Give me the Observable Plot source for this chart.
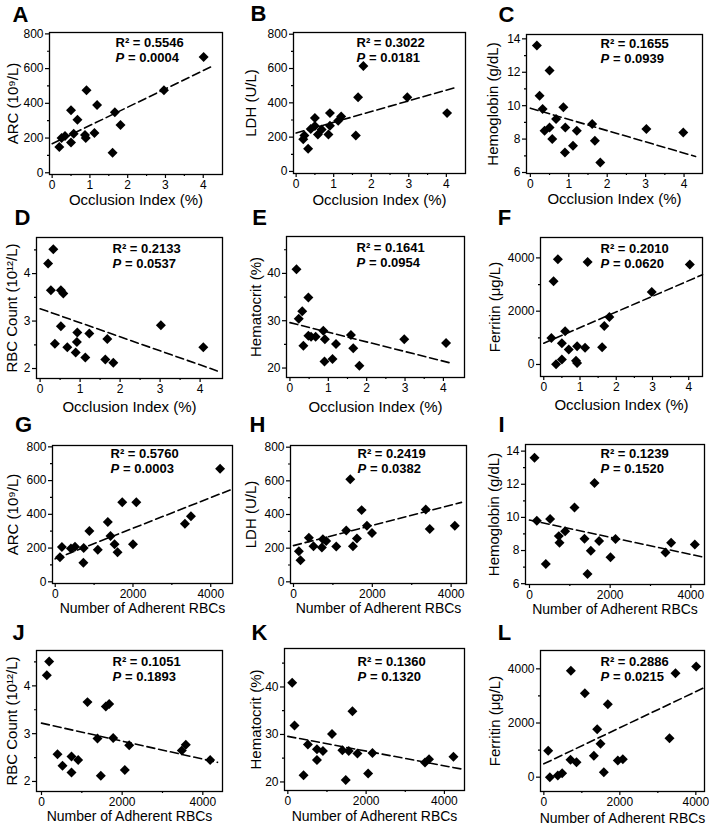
<!DOCTYPE html>
<html><head><meta charset="utf-8">
<script src="https://cdn.jsdelivr.net/npm/d3@7"></script>
<script src="https://cdn.jsdelivr.net/npm/@observablehq/plot@0.6"></script>
<style>
body{margin:0;background:#fff;}
#chart{position:relative;width:709px;height:828px;overflow:hidden;font-family:"Liberation Sans",Arial,sans-serif;}
#chart svg{position:absolute;overflow:visible;}
</style></head><body><div id="chart"></div>
<script>
// ---------- data ----------
const letters = ["A","B","C","D","E","F","G","H","I","J","K","L"];
const xLabels = ["Occlusion Index (%)", "Number of Adherent RBCs"];
const yLabels = ["ARC (10⁹/L)", "LDH (U/L)", "Hemoglobin (g/dL)", "RBC Count (10¹²/L)", "Hematocrit (%)", "Ferritin (μg/L)"];
const r2Values = ["0.5546","0.3022","0.1655","0.2133","0.1641","0.2010","0.5760","0.2419","0.1239","0.1051","0.1360","0.2886"];
const pValues  = ["0.0004","0.0181","0.0939","0.0537","0.0954","0.0620","0.0003","0.0382","0.1520","0.1893","0.1320","0.0215"];

const occTicks = [0,1,2,3,4], occMinor = [0.5,1.5,2.5,3.5];
const adhTicks = [0,2000,4000], adhMinor = [1000,3000];
const arcTicks = [0,200,400,600,800], arcMinor = [100,300,500,700];
const ldhTicks = [0,200,400,600,800], ldhMinor = [100,300,500,700];
const hbTicks = [6,8,10,12,14], hbMinor = [7,9,11,13];
const rbcTicks = [2,3,4], rbcMinor = [2.5,3.5,4.5];
const hctTicks = [20,30,40], hctMinor = [25,35,45];
const ferTicks = [0,2000,4000], ferMinor = [1000,3000];

// A: ARC vs occlusion index
const aX = [0.19,0.25,0.34,0.50,0.50,0.57,0.67,0.87,0.89,0.91,1.12,1.19,1.60,1.66,1.81,2.96,4.01];
const aY = [148,200,212,360,175,225,306,217,200,475,229,390,115,348,275,475,667];
const aFitX = [0,4.22], aFitY = [167,612];
// B: LDH vs occlusion index
const bX = [1.79,1.65,2.96,4.02,0.90,0.50,1.20,1.12,0.90,0.50,0.39,0.68,0.58,0.86,1.59,0.22,0.19,0.32];
const bY = [615,433,433,340,340,312,320,295,267,265,248,245,215,215,210,210,187,132];
const bFitX = [0,4.22], bFitY = [224,488];
// C: Hemoglobin vs occlusion index
const cX = [0.17,0.50,0.24,0.32,0.86,0.67,0.50,0.37,0.91,1.21,0.57,1.11,0.90,1.61,1.68,1.82,3.02,3.98];
const cY = [13.6,12.1,10.6,9.8,9.9,9.2,8.7,8.5,8.7,8.5,8.0,7.6,7.2,8.9,7.9,6.6,8.6,8.4];
const cFitX = [0,4.3], cFitY = [9.85,6.96];
// D: RBC count vs occlusion index
const dX = [0.33,0.20,0.27,0.52,0.58,0.52,0.37,0.68,0.93,0.92,0.89,1.23,1.13,1.68,1.63,1.83,3.02,4.08];
const dY = [4.51,4.21,3.65,3.65,3.58,2.89,2.52,2.45,2.76,2.56,2.34,2.74,2.23,2.62,2.19,2.12,2.91,2.45];
const dFitX = [0,4.43], dFitY = [3.26,1.95];
// E: Hematocrit vs occlusion index
const eX = [0.17,0.48,0.32,0.23,0.35,0.48,0.55,0.67,0.87,0.91,0.90,1.11,1.20,1.59,1.65,1.81,2.98,4.07];
const eY = [40.9,34.9,32.0,30.4,24.7,26.8,26.6,26.6,27.9,26.1,21.4,21.9,25.1,27.0,24.2,20.5,26.1,25.3];
const eFitX = [0,4.17], eFitY = [29.6,21.1];
// F: Ferritin vs occlusion index
const fX = [0.39,1.21,4.03,0.27,2.98,1.81,1.67,0.59,0.21,0.50,0.69,0.92,1.14,1.61,0.50,0.89,0.92,0.34];
const fY = [3950,3850,3750,3120,2720,1780,1440,1250,990,800,560,680,630,650,190,140,60,10];
const fFitX = [0,4.38], fFitY = [800,3370];
// G: ARC vs adherent RBCs
const gX = [4241,2086,1724,3491,3336,1353,879,1422,1526,2000,1603,1095,733,724,509,405,172,121];
const gY = [670,472,472,388,344,355,301,272,223,223,175,190,200,113,208,198,206,146];
const gFitX = [0,4560], gFitY = [136,550];
// H: LDH vs adherent RBCs
const hX = [1441,1729,3356,4093,3458,1864,1339,1992,1610,1508,1085,508,390,746,830,720,136,178];
const hY = [610,426,430,333,314,333,305,290,257,211,210,211,262,253,242,204,181,128];
const hFitX = [0,4263], hFitY = [215,472];
// I: Hemoglobin vs adherent RBCs
const iX = [124,1612,1116,512,182,884,727,744,1364,1727,2132,3512,4099,1521,3372,2008,405,1438];
const iY = [13.6,12.08,10.6,9.9,9.8,9.17,8.87,8.47,8.71,8.57,8.69,8.47,8.37,7.98,7.88,7.59,7.19,6.59];
const iFitX = [0,4339], iFitY = [9.84,7.59];
// J: RBC count vs adherent RBCs
const jX = [190,132,1140,1595,1678,1388,1777,2174,3579,3479,4182,397,744,909,521,744,2066,1471];
const jY = [4.51,4.22,3.66,3.57,3.62,2.90,2.91,2.76,2.77,2.65,2.45,2.57,2.52,2.45,2.33,2.19,2.24,2.12];
const jFitX = [0,4364], jFitY = [3.22,2.40];
// K: Hematocrit vs adherent RBCs
const kX = [111,171,1650,1128,513,744,897,1393,1556,1778,2162,744,3504,3607,4231,402,2051,1479];
const kY = [40.9,31.9,34.9,30.1,27.9,26.9,26.5,26.7,26.5,26.0,26.1,24.6,24.1,24.8,25.3,21.4,21.8,20.4];
const kFitX = [0,4513], kFitY = [29.6,22.6];
// L: Ferritin vs adherent RBCs
const lX = [4009,711,3465,1079,1684,1404,1491,3307,114,702,860,1316,1947,2079,1579,482,368,158];
const lY = [4086,3926,3840,3100,2695,1772,1231,1440,972,640,554,788,615,665,185,148,62,0];
const lFitX = [0,4228], lFitY = [492,3311];

const panelX = [aX,bX,cX,dX,eX,fX,gX,hX,iX,jX,kX,lX];
const panelY = [aY,bY,cY,dY,eY,fY,gY,hY,iY,jY,kY,lY];
const fitX = [aFitX,bFitX,cFitX,dFitX,eFitX,fFitX,gFitX,hFitX,iFitX,jFitX,kFitX,lFitX];
const fitY = [aFitY,bFitY,cFitY,dFitY,eFitY,fFitY,gFitY,hFitY,iFitY,jFitY,kFitY,lFitY];
const yTickSets = [[arcTicks,arcMinor],[ldhTicks,ldhMinor],[hbTicks,hbMinor],[rbcTicks,rbcMinor],[hctTicks,hctMinor],[ferTicks,ferMinor]];

// ---------- layout ----------
const cellX = [0,236,472], cellW = [236,236,237];
const cellY = [0,205,410,618], cellH = [205,205,208,210];
const frames = [
  [49,32,222,174],[293,32,465,173],[526,34,702,173],
  [36,237,222,378],[286,236,464,377],[540,237,702,376],
  [52,445,232,583],[290,445,466,583],[525,444,704,584],
  [36,650,222,791],[284,648,464,790],[540,650,704,791]
];
const xDomains = [
  [-0.07,4.51],[-0.07,4.51],[-0.10,4.48],[-0.09,4.56],[-0.09,4.55],[-0.09,4.38],
  [-70,4560],[-76,4390],[-99,4339],[-124,4488],[-85,4513],[-88,4228]
];
const yDomains = [
  [-10,808],[-12,810],[5.94,14.26],[1.79,4.76],[18.0,47.8],[-451,4765],
  [-10,808],[-10,810],[5.95,14.4],[1.79,4.74],[18.2,48.1],[-529,4677]
];
const statOff = [[66,10],[63,10],[74,9],[76,11],[70,11],[60,11],[58,8],[67,8],[75,9],[76,11],[73,13],[60,11]];
const letterOff = [[-29,-18],[-35,-19],[-20,-20],[-14,-20],[-27,-19],[-36,-20],[-29,-21],[-33,-21],[-24,-20],[-18,-18],[-25,-16],[-36,-18]];
const yLabOff = [-36,-42,-33,-24,-30,-45,-39,-39,-31,-24,-28,-45];
const xLabOff = [26,27,26,29,30,29,25,25,25,25,26,27];
const xLabSize = [15, 14];

const FONT = '"Liberation Sans", Arial, sans-serif';
const chart = document.getElementById("chart");

for (let k = 0; k < 12; k++) {
  const col = k % 3, row = Math.floor(k / 3);
  const [fl, ft, fr, fb] = frames[k];
  const cx = cellX[col], cy = cellY[row], cw = cellW[col], ch = cellH[row];
  const isOcc = k < 6;
  const [yt, ym] = yTickSets[k % 6];
  const pts = panelX[k].map((x, i) => ({x, y: panelY[k][i]}));
  const fit = fitX[k].map((x, i) => ({x, y: fitY[k][i]}));
  const [sx, sy] = statOff[k];
  const txt = {text: d => d, lineAnchor: "middle"};
  const svg = Plot.plot({
    width: cw, height: ch,
    marginLeft: fl - cx, marginTop: ft - cy, marginRight: cx + cw - fr, marginBottom: cy + ch - fb,
    style: {fontFamily: FONT, fontSize: "12px", color: "black", background: "transparent", overflow: "visible"},
    x: {domain: xDomains[k]},
    y: {domain: yDomains[k]},
    marks: [
      Plot.axisX({ticks: isOcc ? occTicks : adhTicks, tickSize: 4, tickPadding: 2, tickFormat: d => String(d), label: null, fontSize: 12, strokeWidth: 1.2}),
      Plot.axisX({ticks: isOcc ? occMinor : adhMinor, tickSize: 2, tickFormat: () => "", label: null, strokeWidth: 1.2}),
      Plot.axisY({ticks: yt, tickSize: 4, tickPadding: 2, tickFormat: d => String(d), label: null, fontSize: 12, strokeWidth: 1.2}),
      Plot.axisY({ticks: ym, tickSize: 2, tickFormat: () => "", label: null, strokeWidth: 1.2}),
      Plot.frame({stroke: "black", strokeWidth: 1.3}),
      Plot.line(fit, {x: "x", y: "y", stroke: "black", strokeWidth: 1.6, strokeDasharray: "8,4"}),
      Plot.dot(pts, {x: "x", y: "y", symbol: "diamond2", r: 4.5, fill: "black", stroke: "none"}),
      Plot.text([`R² = ${r2Values[k]}`], {...txt, frameAnchor: "top-left", dx: sx, dy: sy, textAnchor: "start", fontWeight: "bold", fontSize: 13}),
      Plot.text(["P"], {...txt, frameAnchor: "top-left", dx: sx, dy: sy + 15, textAnchor: "start", fontWeight: "bold", fontStyle: "italic", fontSize: 13}),
      Plot.text([`= ${pValues[k]}`], {...txt, frameAnchor: "top-left", dx: sx + 12.5, dy: sy + 15, textAnchor: "start", fontWeight: "bold", fontSize: 13}),
      Plot.text([letters[k]], {...txt, frameAnchor: "top-left", dx: letterOff[k][0], dy: letterOff[k][1], textAnchor: "middle", fontWeight: "bold", fontSize: 22}),
      Plot.text([yLabels[k % 6]], {...txt, frameAnchor: "left", dx: yLabOff[k], textAnchor: "middle", rotate: -90, fontSize: 15}),
      Plot.text([xLabels[isOcc ? 0 : 1]], {...txt, frameAnchor: "bottom", dy: xLabOff[k], textAnchor: "middle", fontSize: xLabSize[isOcc ? 0 : 1]})
    ]
  });
  svg.style.left = cx + "px";
  svg.style.top = cy + "px";
  chart.appendChild(svg);
}
</script></body></html>
